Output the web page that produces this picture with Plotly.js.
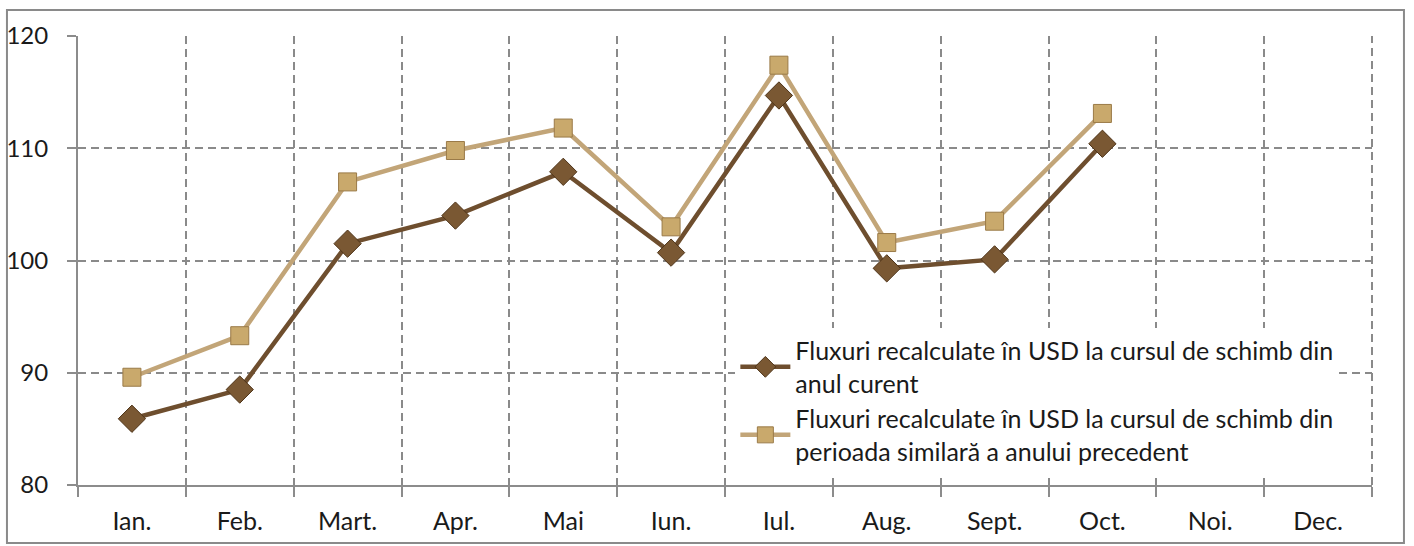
<!DOCTYPE html>
<html><head><meta charset="utf-8">
<script src="https://cdn.plot.ly/plotly-3.0.1.min.js"></script>
<style>html,body{margin:0;padding:0;background:#fff}#chart{width:1414px;height:546px}</style>
</head><body><div id="chart"></div>
<script>
const months = ["Ian.","Feb.","Mart.","Apr.","Mai","Iun.","Iul.","Aug.","Sept.","Oct.","Noi.","Dec."];
const curentValues = [85.9, 88.5, 101.5, 104.0, 107.9, 100.7, 114.7, 99.3, 100.1, 110.4, null, null];
const precedentValues = [89.6, 93.3, 107.0, 109.8, 111.8, 103.0, 117.4, 101.6, 103.5, 113.1, null, null];
const seriesNames = [
  "Fluxuri recalculate în USD la cursul de schimb din<br>anul curent",
  "Fluxuri recalculate în USD la cursul de schimb din<br>perioada similară a anului precedent"
];
const font = "Lato, 'Open Sans', sans-serif";
const gridDash = "8px,5px";
const traces = [
  {x: months, y: curentValues, name: seriesNames[0], type: "scatter", mode: "lines+markers",
   line: {color: "#6e4e2e", width: 4.5},
   marker: {symbol: "diamond", size: 21, color: "#7a5833", line: {color: "#4e3419", width: 1}}},
  {x: months, y: precedentValues, name: seriesNames[1], type: "scatter", mode: "lines+markers",
   line: {color: "#c2a578", width: 4.5},
   marker: {symbol: "square", size: 18, color: "#c9a96c", line: {color: "#9a7a48", width: 1}}}
];
const layout = {
  width: 1414, height: 546,
  margin: {l: 78, r: 42, t: 36, b: 61},
  paper_bgcolor: "#fff", plot_bgcolor: "#fff",
  font: {family: font, size: 24, color: "#1a1a1a"},
  showlegend: true,
  legend: {x: 0.508, y: 0.35, xanchor: "left", yanchor: "top", bgcolor: "#fff",
           font: {family: font, size: 25, color: "#1a1a1a"}, tracegroupgap: 0, itemwidth: 50},
  xaxis: {type: "category", tickson: "boundaries", showgrid: true, gridcolor: "#8a8a8a", griddash: gridDash, gridwidth: 2,
          showline: true, linecolor: "#8c8c8c", linewidth: 2, ticks: "outside", ticklen: 10, tickcolor: "#8c8c8c", tickwidth: 2,
          range: [-0.5, 11.5], fixedrange: true, tickfont: {size: 25}, ticklabelstandoff: 13},
  yaxis: {range: [80, 120], dtick: 10, showgrid: true, gridcolor: "#8a8a8a", griddash: gridDash, gridwidth: 2,
          showline: true, linecolor: "#8c8c8c", linewidth: 2, ticks: "outside", ticklen: 9, tickcolor: "#8c8c8c", tickwidth: 2,
          zeroline: false, tickfont: {size: 24}, ticklabelstandoff: 14},
  shapes: [
    {type: "rect", xref: "paper", yref: "paper", x0: -0.0549, x1: 1.0247, y0: -0.1292, y1: 1.0579,
     line: {color: "#8a8a8a", width: 2}, fillcolor: "rgba(0,0,0,0)", layer: "below"},
    {type: "line", xref: "paper", yref: "paper", x0: 1, x1: 1, y0: 0, y1: 1,
     line: {color: "#8a8a8a", width: 2, dash: gridDash}, layer: "below"}
  ]
};
Plotly.newPlot("chart", traces, layout, {displayModeBar: false, staticPlot: true});
</script></body></html>
